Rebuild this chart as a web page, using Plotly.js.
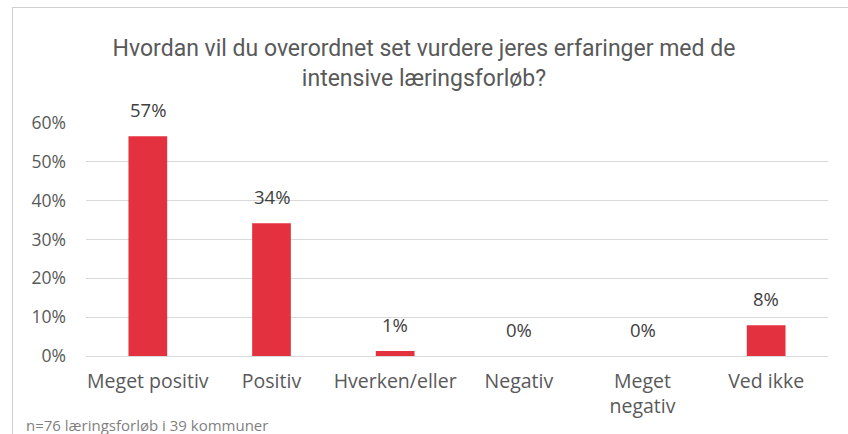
<!DOCTYPE html>
<html>
<head>
<meta charset="utf-8">
<script src="https://cdn.plot.ly/plotly-3.0.1.min.js"></script>
<style>
html,body{margin:0;padding:0;background:#fff;}
#wrap{position:relative;width:848px;height:434px;overflow:hidden;}
#chart{width:848px;height:434px;}
#frame{position:absolute;left:12px;top:7px;width:900px;height:500px;border-left:1px solid #d0d0d0;border-top:1px solid #d0d0d0;pointer-events:none;}
</style>
</head>
<body>
<div id="wrap"><div id="chart"></div><div id="frame"></div></div>
<script>
const categories = ["Meget positiv", "Positiv", "Hverken/eller", "Negativ", "Meget<br>negativ", "Ved ikke"];
const values = [56.6, 34.2, 1.3, 0, 0, 7.9];
const valueLabels = ["57%", "34%", "1%", "0%", "0%", "8%"];
const tickVals = [0, 10, 20, 30, 40, 50, 60];
const tickText = ["0%", "10%", "20%", "30%", "40%", "50%", "60%"];
const titleText = "Hvordan vil du overordnet set vurdere jeres erfaringer med de<br>intensive læringsforløb?";
const footnote = "n=76 læringsforløb i 39 kommuner";

const font = "Open Sans, sans-serif";

const trace = {
  type: "bar",
  x: categories,
  y: values,
  marker: {color: "#e4313f"},
  hoverinfo: "skip"
};

const annotations = categories.map((c, i) => ({
  x: c, y: values[i], xref: "x", yref: "y",
  text: valueLabels[i], showarrow: false,
  yanchor: "bottom", yshift: 12,
  font: {family: font, size: 18.5, color: "#404040"}
}));
annotations.push({
  xref: "paper", yref: "paper", x: -0.083, y: -0.296,
  xanchor: "left", yanchor: "middle", showarrow: false,
  text: footnote, font: {family: font, size: 15, color: "#7f7f7f"}
});

const layout = {
  width: 848, height: 434,
  margin: {l: 86, r: 20, t: 123, b: 78},
  paper_bgcolor: "#fff", plot_bgcolor: "#fff",
  bargap: 0.687,
  showlegend: false,
  title: {
    text: titleText,
    x: 0.5, xanchor: "center", xref: "container",
    y: 1 - 56/434, yanchor: "middle",
    font: {family: "Roboto, sans-serif", size: 23, color: "#595959"}
  },
  xaxis: {
    type: "category",
    showgrid: false, zeroline: false, showline: false,
    ticks: "", ticklabelstandoff: 11,
    tickfont: {family: font, size: 19.5, color: "#595959"}
  },
  yaxis: {
    range: [0, 60], tickvals: tickVals, ticktext: tickText,
    showgrid: true, gridcolor: "#d9d9d9", gridwidth: 1,
    zeroline: true, zerolinecolor: "#d9d9d9", zerolinewidth: 1,
    showline: false, ticks: "", ticklabelstandoff: 19,
    tickfont: {family: font, size: 17.5, color: "#595959"}
  },
  annotations: annotations
};

Plotly.newPlot("chart", [trace], layout, {displayModeBar: false, staticPlot: true});
</script>
</body>
</html>
